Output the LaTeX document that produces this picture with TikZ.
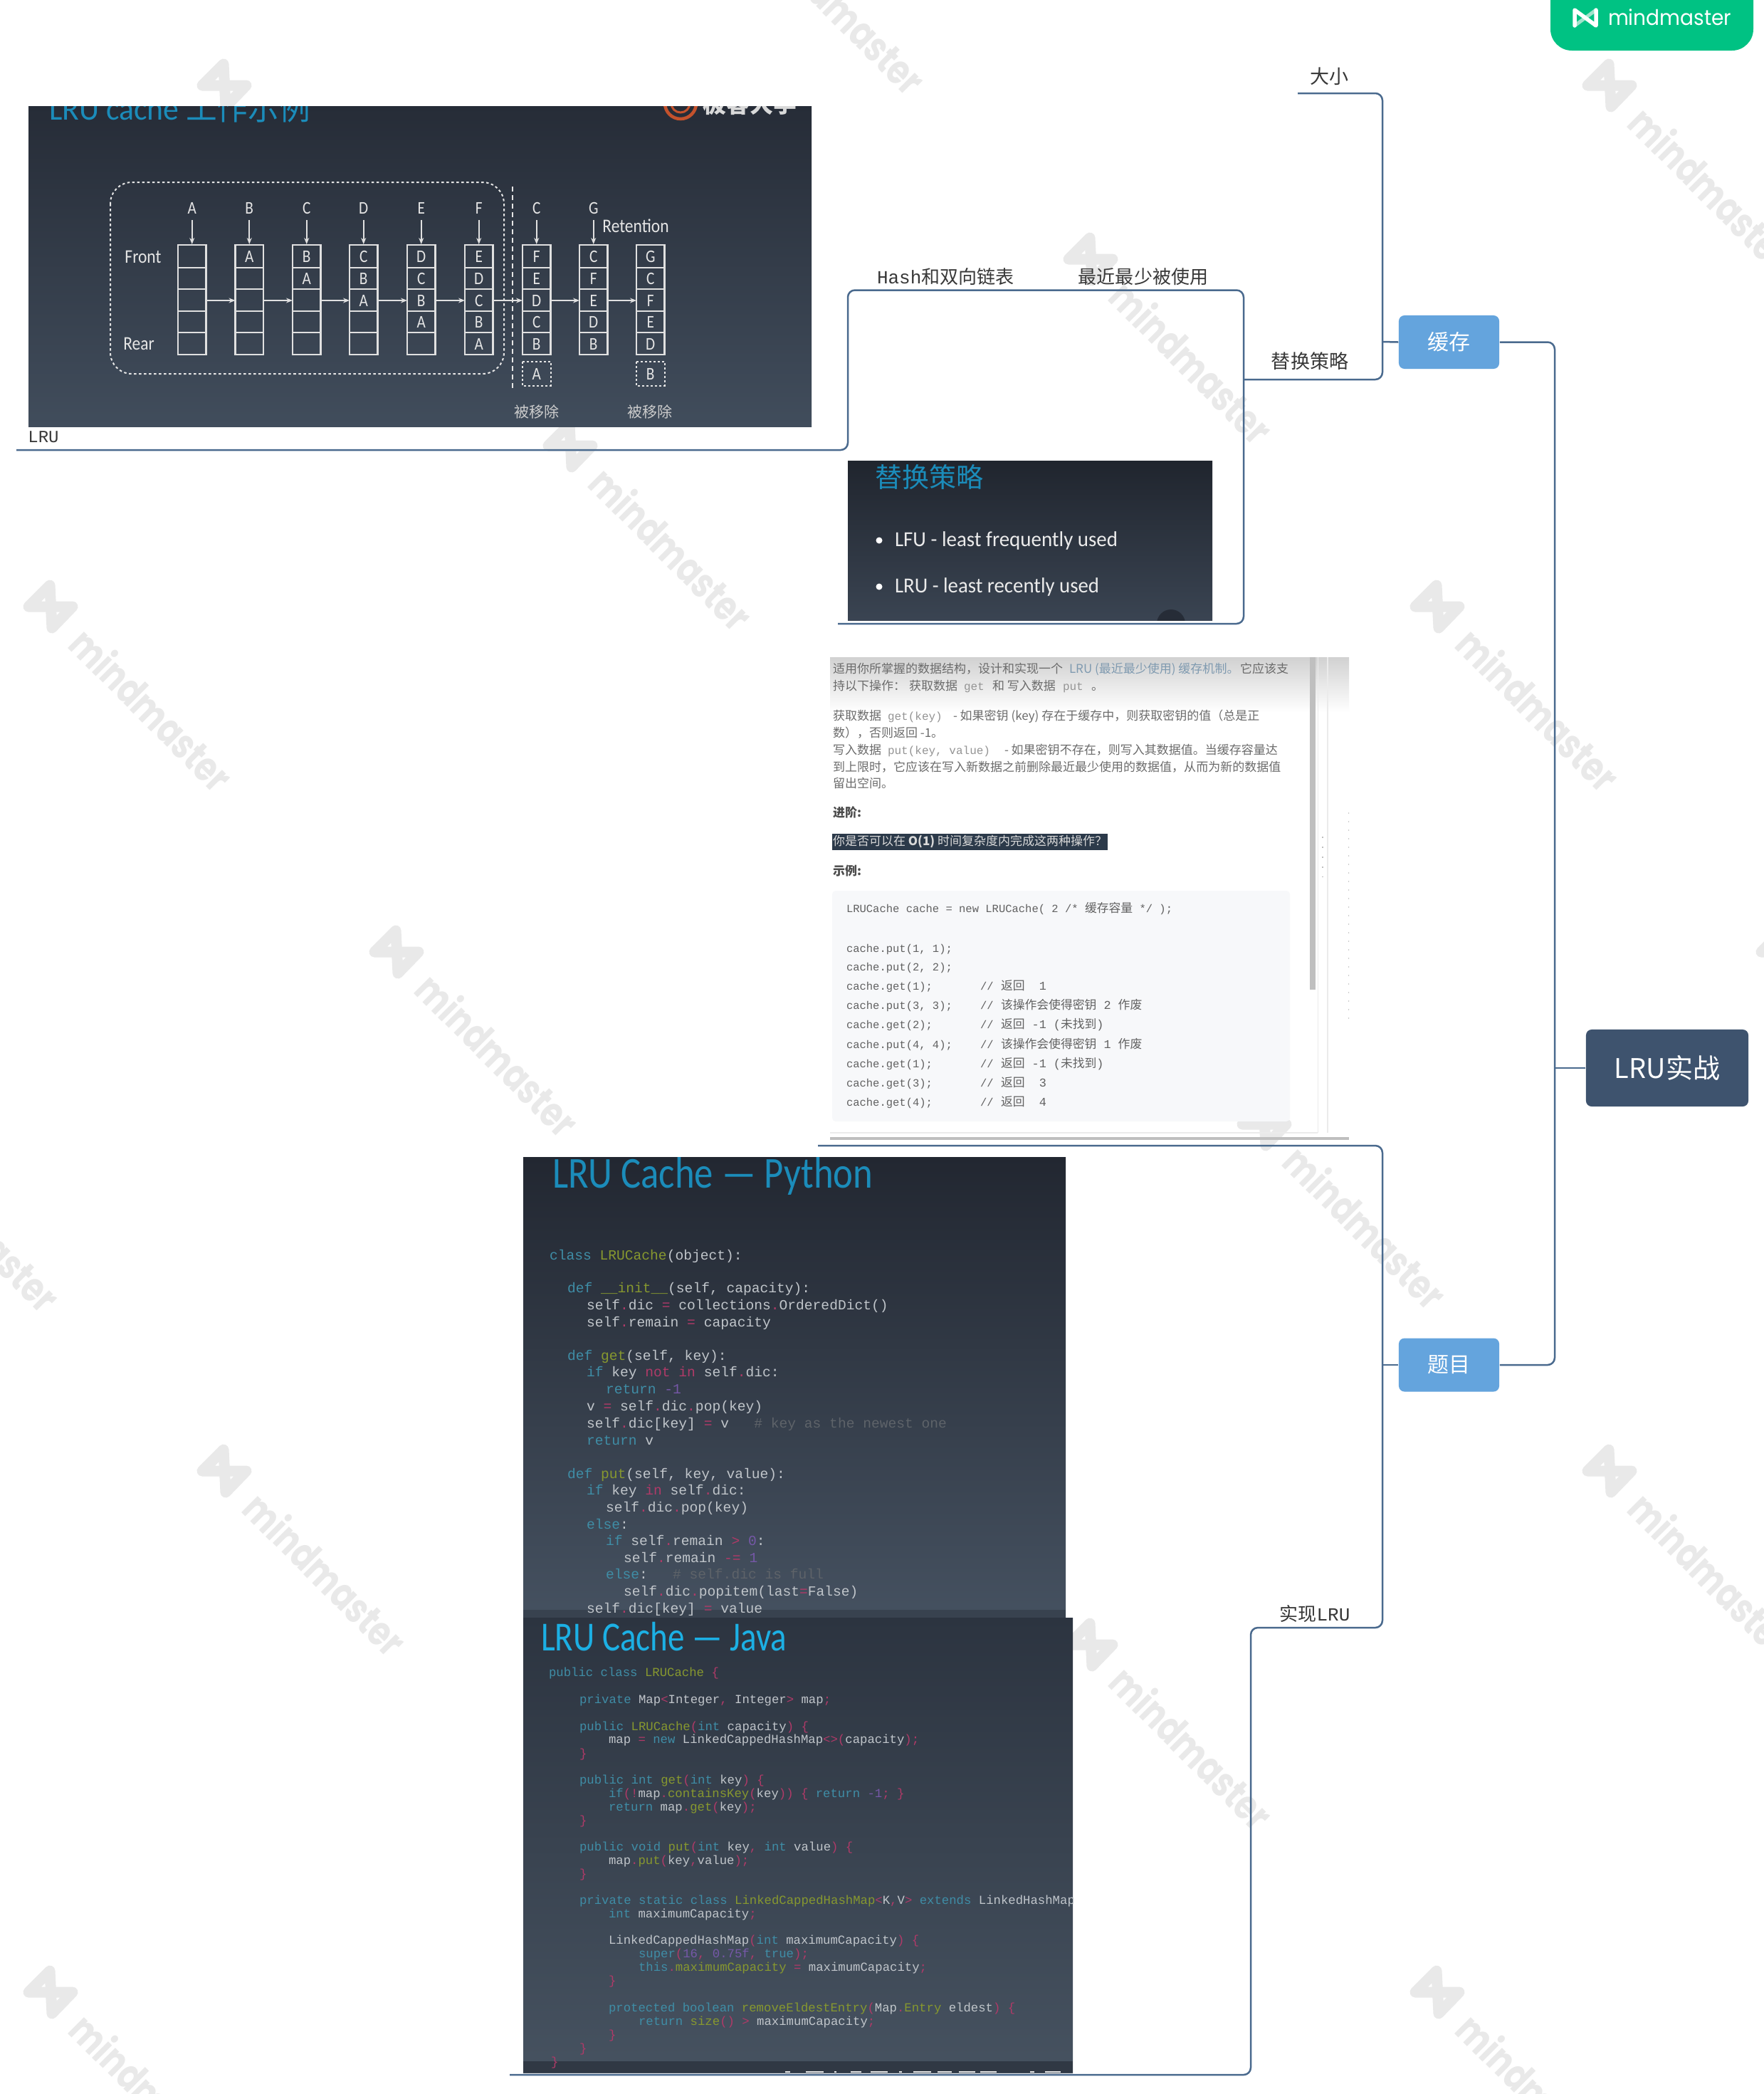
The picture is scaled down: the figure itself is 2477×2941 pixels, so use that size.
\documentclass[tikz,border=0pt]{standalone}
\usepackage{fontspec}
\usetikzlibrary{arrows.meta}
\setmainfont{Noto Sans CJK SC}
\newfontfamily\cd{Liberation Mono}
\newfontfamily\cb{Carlito}
\newfontfamily\pp{Poppins}
\newcommand\fpx[1]{\fontsize{\fpeval{#1*0.2845}pt}{\fpeval{#1*0.34}pt}\selectfont}
\newcommand\sx[2]{\scalebox{#1}[1]{#2}}
\newcounter{tn}
\definecolor{linec}{HTML}{4A6A8E}
\definecolor{blueN}{HTML}{64A4DD}
\definecolor{rootN}{HTML}{3E536E}
\definecolor{slideT}{HTML}{1B8CBA}
\definecolor{javaT}{HTML}{1CB0E4}
\definecolor{cKw}{HTML}{3F8DA6}
\definecolor{cFn}{HTML}{87982F}
\definecolor{cOp}{HTML}{B03A68}
\definecolor{cNm}{HTML}{7658A8}
\definecolor{cCm}{HTML}{5E6369}
\definecolor{cTx}{HTML}{C0C5CA}
\definecolor{wm}{HTML}{E9E9E9}
\definecolor{sATop}{HTML}{262C37}
\definecolor{sABot}{HTML}{414D5C}
\definecolor{sBTop}{HTML}{20252E}
\definecolor{sBBot}{HTML}{3A4452}
\definecolor{sCTop}{HTML}{222731}
\definecolor{sCBot}{HTML}{455160}
\definecolor{sCBand}{HTML}{38424F}
\definecolor{sDTop}{HTML}{2C3440}
\definecolor{sDBot}{HTML}{465260}
\definecolor{sDBand}{HTML}{303844}
\definecolor{orng}{HTML}{C4522C}
\definecolor{badge}{HTML}{00C283}
\definecolor{badge2}{HTML}{9FE3CB}
\definecolor{codebg}{HTML}{F7F8FA}
\definecolor{hilite}{HTML}{2C3A4A}
\definecolor{lnk}{HTML}{7F9AB0}
\definecolor{blob}{HTML}{262C37}
\newcommand\K[1]{{\color{cKw}#1}}
\newcommand\F[1]{{\color{cFn}#1}}
\newcommand\Op[1]{{\color{cOp}#1}}
\newcommand\Nm[1]{{\color{cNm}#1}}
\newcommand\Cm[1]{{\color{cCm}#1}}
\newcommand\BL[1]{{\color{lnk}#1}}
\tikzset{
  txt/.style={inner sep=0pt,outer sep=0pt,anchor=base west},
  conn/.style={draw=linec,line width=0.025cm,rounded corners=0.1cm},
  topicbox/.style={draw=none,fill=blueN,rounded corners=0.08cm,minimum width=1.41cm,minimum height=0.75cm,inner sep=0pt,text=white,font=\fpx{30}},
  rootbox/.style={fill=rootN,rounded corners=0.08cm,minimum width=2.28cm,minimum height=1.08cm,inner sep=0pt,text=white,font=\fpx{38}},
  lbl/.style={txt,anchor=center,text=black!78,font=\fpx{27}},
  py/.style={txt,text=cTx,font=\cd\fpx{19.6},yshift=-0.06cm},
  jv/.style={txt,text=cTx,font=\cd\fpx{17.3},yshift=-0.05cm},
  pg/.style={txt,text=black!58,font=\fpx{17},yshift=-0.055cm},
  cdp/.style={txt,text=black!62,font=\cd\fpx{15.5},yshift=-0.05cm},
  cell/.style={txt,anchor=center,text=white!90!black,font=\cb\fpx{25}},
  wire/.style={draw=white!88!black,line width=0.022cm},
  arr/.style={wire,-{Stealth[length=0.09cm,width=0.07cm]}},
  wmlogo/.style={draw=wm,line width=0.15cm,line join=round,line cap=round},
}
\newcommand\tx[4][]{\stepcounter{tn}\node[txt,name=t\arabic{tn},#1] at (#2,#3) {#4};}
\newcommand\wmk[2]{%
  \begin{scope}[shift={(#1,#2+4)}]
    \draw[wmlogo] (-31,0) -- (-1,-30) -- (2,30) -- (31,0) -- cycle;
    \tx[anchor=west,rotate=-45,text=wm,font=\pp\bfseries\fpx{58}]{39}{40}{\sx{0.785}{mindmaster}}
  \end{scope}}
\begin{document}
\begin{tikzpicture}[x=0.01cm,y=-0.01cm]
\useasboundingbox (0,0) rectangle (2477,2941);
\fill[white] (0,0) rectangle (2477,2941);
% watermarks
\foreach \wx/\wy in {315/116,2261/116,1532/360,801/622,71/848,2019/848,557/1333,1776/1575,315/2062,2261/2062,1532/2306,71/2794,2019/2794,1044/-131,-172/1579,2505/1333}{\wmk{\wx}{\wy}}
% image 1: LRU cache
\begin{scope}
\clip (40,149) rectangle (1140,599);
\shade[top color=sATop,bottom color=sABot] (40,149) rectangle (1140,599);
\tx[text=slideT,font=\cb\fpx{46}]{69}{168}{\sx{0.95}{LRU cache {\fontspec{Noto Sans CJK SC}工作示例}}}
\draw[orng,line width=0.045cm] (956,145) ellipse [x radius=22,y radius=22];
\draw[orng,line width=0.03cm] (956,145) ellipse [x radius=13,y radius=13];
\tx[text=white!85!black,font=\bfseries\fpx{33}]{987}{158}{极客大学}
\draw[white!90!black,line width=0.02cm,dash pattern=on 0.035cm off 0.035cm,rounded corners=0.3cm] (155,256) rectangle (708,525);
\draw[white!90!black,line width=0.02cm,dash pattern=on 0.07cm off 0.05cm] (720,262) -- (720,550);
\foreach \cxx/\ca/\cbb/\cc/\cdd/\ce in {250/{}/{}/{}/{}/{},330.5/A/{}/{}/{}/{},411/B/A/{}/{}/{},491/C/B/A/{}/{},572/D/C/B/A/{},653/E/D/C/B/A,734/F/E/D/C/B,814/C/F/E/D/B,894/G/C/F/E/D}{
  \foreach \ya/\yb in {344/376,376/406,406/437,437/467,467/498}{
    \draw[wire] (\cxx,\ya) rectangle (\cxx+39.5,\yb);
  }
  \tx[cell]{\cxx+19.75}{360}{\sx{0.85}{\ca}}
  \tx[cell]{\cxx+19.75}{391}{\sx{0.85}{\cbb}}
  \tx[cell]{\cxx+19.75}{422}{\sx{0.85}{\cc}}
  \tx[cell]{\cxx+19.75}{452}{\sx{0.85}{\cdd}}
  \tx[cell]{\cxx+19.75}{483}{\sx{0.85}{\ce}}
}
\foreach \ax/\bx in {289.5/330.5,370/411,451/491,531/572,612/653,693/734,773/814,854/894}{
  \draw[arr] (\ax,422) -- (\bx,422);
}
\foreach \cxx/\tl in {250/A,330.5/B,411/C,491/D,572/E,653/F,734/C,814/G}{
  \draw[arr] (\cxx+19.75,309) -- (\cxx+19.75,343);
  \tx[cell]{\cxx+19.75}{292}{\sx{0.85}{\tl}}
}
\foreach \cxx/\tl in {734/A,894/B}{
  \draw[white!90!black,line width=0.02cm,dash pattern=on 0.03cm off 0.03cm] (\cxx,508) rectangle (\cxx+39.5,542);
  \tx[cell]{\cxx+19.75}{525}{\sx{0.85}{\tl}}
}
\tx[cell,font=\cb\fpx{27}]{201}{361}{\sx{0.87}{Front}}
\tx[cell,font=\cb\fpx{27}]{195}{483}{\sx{0.87}{Rear}}
\tx[cell,font=\cb\fpx{27}]{893}{317}{\sx{0.87}{Retention}}
\tx[cell,font=\fpx{21},text=white!80!black]{754}{578}{被移除}
\tx[cell,font=\fpx{21},text=white!80!black]{913}{578}{被移除}
\end{scope}
% image 2
\begin{scope}
\clip (1191,647.5) rectangle (1703,871);
\shade[top color=sBTop,bottom color=sBBot] (1191,647.5) rectangle (1703,871);
\tx[anchor=west,text=slideT,font=\fpx{38}]{1229}{670}{替换策略}
\fill[white] (1235,759) circle[radius=0.045cm];
\fill[white] (1235,824) circle[radius=0.045cm];
\tx[anchor=west,text=white!92!black,font=\cb\fpx{30}]{1257}{759}{\sx{0.965}{LFU - least frequently used}}
\tx[anchor=west,text=white!92!black,font=\cb\fpx{30}]{1257}{824}{\sx{0.96}{LRU - least recently used}}
\fill[blob] (1645,876) circle[radius=0.2cm];
\end{scope}
% image 3
\begin{scope}
\clip (1166,923) rectangle (1895,1601);
\shade[top color=black!18,bottom color=white] (1166,923) rectangle (1895,1000);
\fill[black!25] (1840,923) rectangle (1848,1390);
\draw[black!8,line width=0.012cm] (1851.5,923) -- (1851.5,1591);
\draw[black!8,line width=0.012cm] (1865,923) -- (1865,1591);
\draw[black!8,line width=0.012cm] (1166,1591) -- (1851,1591);
\draw[black!25,line width=0.02cm,dash pattern=on 0.02cm off 0.12cm] (1858,1175) -- (1858,1232);
\draw[black!20,line width=0.012cm,dash pattern=on 0.02cm off 0.1cm] (1895,1141) -- (1895,1437);
\fill[black!25] (1166,1597) rectangle (1895,1601);
\fill[codebg,rounded corners=0.05cm] (1169,1251) rectangle (1812,1575);
\fill[hilite] (1169,1171) rectangle (1556,1194);
\tx[pg]{1170}{940}{适用你所掌握的数据结构，设计和实现一个}
\tx[pg]{1502}{940}{\BL{LRU (最近最少使用) 缓存机制。}}
\tx[pg]{1742}{940}{它应该支}
\tx[pg]{1170}{964}{持以下操作：}
\tx[pg]{1277}{964}{获取数据}
\tx[pg,font=\cd\fpx{16},text=black!42]{1354}{964}{get}
\tx[pg]{1394}{964}{和 写入数据}
\tx[pg,font=\cd\fpx{16},text=black!42]{1493}{964}{put}
\tx[pg]{1533}{964}{。}
\tx[pg]{1170}{1006}{获取数据}
\tx[pg,font=\cd\fpx{16},text=black!42]{1247}{1006}{get(key)}
\tx[pg]{1339}{1006}{- 如果密钥 (key) 存在于缓存中，则获取密钥的值（总是正}
\tx[pg]{1170}{1030}{数），否则返回 -1。}
\tx[pg]{1170}{1054}{写入数据}
\tx[pg,font=\cd\fpx{16},text=black!42]{1247}{1054}{put(key, value)}
\tx[pg]{1411}{1054}{- 如果密钥不存在，则写入其数据值。当缓存容量达}
\tx[pg]{1170}{1078}{到上限时，它应该在写入新数据之前删除最近最少使用的数据值，从而为新的数据值}
\tx[pg]{1170}{1101}{留出空间。}
\tx[pg,font=\bfseries\fpx{17},text=black!70]{1170}{1142}{进阶:}
\tx[pg,text=white!85!black]{1170}{1182}{你是否可以在 \textbf{O(1)} 时间复杂度内完成这两种操作？}
\tx[pg,font=\bfseries\fpx{17},text=black!70]{1170}{1224}{示例:}
\tx[cdp]{1189}{1276}{LRUCache cache = new LRUCache( 2 /* {\fontspec{Noto Sans CJK SC}\fpx{16.8}缓存容量} */ );}
\foreach \yy/\aa/\bb in {1332/{cache.put(1, 1);}/{},1358/{cache.put(2, 2);}/{},1385/{cache.get(1);}/{返回{\cd ~~1}},1412/{cache.put(3, 3);}/{该操作会使得密钥{\cd ~2~}作废},1439/{cache.get(2);}/{返回{\cd ~-1~(}未找到{\cd )}},1467/{cache.put(4, 4);}/{该操作会使得密钥{\cd ~1~}作废},1494/{cache.get(1);}/{返回{\cd ~-1~(}未找到{\cd )}},1521/{cache.get(3);}/{返回{\cd ~~3}},1548/{cache.get(4);}/{返回{\cd ~~4}}}{
  \tx[cdp]{1189}{\yy}{\aa}
  \tx[cdp,font=\fpx{16.8}]{1406}{\yy}{\bb}
}
\foreach \yy in {1385,1412,1439,1467,1494,1521,1548}{
  \tx[cdp]{1377}{\yy}{//}
}
\end{scope}
% image 4 python
\begin{scope}
\clip (735,1625) rectangle (1497,2272);
\shade[top color=sCTop,bottom color=sCBot] (735,1625) rectangle (1497,2272);
\fill[sCBand] (735,2261) rectangle (1497,2272);
\tx[anchor=west,text=slideT,font=\cb\fpx{62}]{776}{1652}{\sx{0.85}{LRU Cache — Python}}
\tx[py]{772}{1763}{\K{class} \F{LRUCache}(object):}
\tx[py]{797}{1809}{\K{def} \F{\_\_init\_\_}(self, capacity):}
\tx[py]{824}{1833}{self\Op{.}dic \Op{=} collections\Op{.}OrderedDict()}
\tx[py]{824}{1857}{self\Op{.}remain \Op{=} capacity}
\tx[py]{797}{1904}{\K{def} \F{get}(self, key):}
\tx[py]{824}{1927}{\K{if} key \Op{not in} self\Op{.}dic:}
\tx[py]{851}{1951}{\K{return} \Nm{-1}}
\tx[py]{824}{1975}{v \Op{=} self\Op{.}dic\Op{.}pop(key)}
\tx[py]{824}{1999}{self\Op{.}dic[key] \Op{=} v~~~\Cm{\# key as the newest one}}
\tx[py]{824}{2023}{\K{return} v}
\tx[py]{797}{2070}{\K{def} \F{put}(self, key, value):}
\tx[py]{824}{2093}{\K{if} key \Op{in} self\Op{.}dic:}
\tx[py]{851}{2117}{self\Op{.}dic\Op{.}pop(key)}
\tx[py]{824}{2141}{\K{else}:}
\tx[py]{851}{2164}{\K{if} self\Op{.}remain \Op{>} \Nm{0}:}
\tx[py]{876}{2188}{self\Op{.}remain \Op{-=} \Nm{1}}
\tx[py]{851}{2211}{\K{else}:~~~\Cm{\# self.dic is full}}
\tx[py]{876}{2235}{self\Op{.}dic\Op{.}popitem(last\Op{=}False)}
\tx[py]{824}{2259}{self\Op{.}dic[key] \Op{=} value}
\end{scope}
% image 5 java
\begin{scope}
\clip (735,2272) rectangle (1507,2911);
\shade[top color=sDTop,bottom color=sDBot] (735,2272) rectangle (1507,2911);
\fill[sDBand] (735,2895) rectangle (1507,2911);
\foreach \ba/\bc in {1103/1110,1132/1157,1172/1175,1195/1210,1223/1247,1263/1267,1283/1308,1317/1337,1347/1370,1377/1400,1447/1453,1468/1490}{
  \fill[white!90!black] (\ba,2908.5) rectangle (\bc,2911);
}
\tx[anchor=west,text=javaT,font=\cb\fpx{58}]{760}{2299}{\sx{0.81}{LRU Cache — Java}}
\tx[jv]{771}{2349}{\K{public class} \F{LRUCache} \Op{\{}}
\tx[jv]{814}{2387}{\K{private} Map\Op{<}Integer\Op{,} Integer\Op{>} map\Op{;}}
\tx[jv]{814}{2425}{\K{public} \F{LRUCache}\Op{(}\K{int} capacity\Op{)} \Op{\{}}
\tx[jv]{855}{2443}{map \Op{=} \K{new} LinkedCappedHashMap\Op{<>(}capacity\Op{);}}
\tx[jv]{814}{2463}{\Op{\}}}
\tx[jv]{814}{2500}{\K{public int} \F{get}\Op{(}\K{int} key\Op{)} \Op{\{}}
\tx[jv]{855}{2519}{\K{if}\Op{(!}map\Op{.}\F{containsKey}\Op{(}key\Op{))} \Op{\{} \K{return} \Nm{-1}\Op{;} \Op{\}}}
\tx[jv]{855}{2538}{\K{return} map\Op{.}\F{get}\Op{(}key\Op{);}}
\tx[jv]{814}{2557}{\Op{\}}}
\tx[jv]{814}{2594}{\K{public void} \F{put}\Op{(}\K{int} key\Op{,} \K{int} value\Op{)} \Op{\{}}
\tx[jv]{855}{2613}{map\Op{.}\F{put}\Op{(}key\Op{,}value\Op{);}}
\tx[jv]{814}{2632}{\Op{\}}}
\tx[jv]{814}{2669}{\K{private static class} \F{LinkedCappedHashMap}\Op{<}K\Op{,}V\Op{>} \K{extends} LinkedHashMap\Op{<}K\Op{,}V\Op{>} \Op{\{}}
\tx[jv]{855}{2688}{\K{int} maximumCapacity\Op{;}}
\tx[jv]{855}{2725}{LinkedCappedHashMap\Op{(}\K{int} maximumCapacity\Op{)} \Op{\{}}
\tx[jv]{897}{2744}{\K{super}\Op{(}\Nm{16}\Op{,} \Nm{0.75f}\Op{,} \K{true}\Op{);}}
\tx[jv]{897}{2763}{\K{this}\Op{.}\F{maximumCapacity} \Op{=} maximumCapacity\Op{;}}
\tx[jv]{855}{2782}{\Op{\}}}
\tx[jv]{855}{2820}{\K{protected boolean} \F{removeEldestEntry}\Op{(}Map\Op{.}\F{Entry} eldest\Op{)} \Op{\{}}
\tx[jv]{897}{2839}{\K{return} \F{size}\Op{()} \Op{>} maximumCapacity\Op{;}}
\tx[jv]{855}{2858}{\Op{\}}}
\tx[jv]{814}{2877}{\Op{\}}}
\tx[jv]{774}{2896}{\Op{\}}}
\end{scope}
% badge
\fill[badge,rounded corners=0.3cm] (2178,-50) rectangle (2463,71);
\draw[badge2,line width=0.05cm] (2212,36) -- (2242,14);
\draw[white,line width=0.055cm,line join=round,line cap=round] (2212,36) -- (2212,14) -- (2242,36) -- (2242,14);
\tx[text=white,font=\pp\fpx{30}]{2259}{35}{\sx{0.935}{mindmaster}}
% mind map nodes
\node[rootbox] (root) at (2342,1500) {LRU实战};
\node[topicbox] (cache) at (2035.5,480.5) {缓存};
\node[topicbox] (topic) at (2035.5,1917) {题目};
\node[lbl] (size) at (1867,107) {大小};
\node[lbl] (repl) at (1840,507) {替换策略};
\node[lbl,font=\fpx{26},anchor=base west] (hash) at (1232,398) {{\cd Hash}和双向链表};
\node[lbl,font=\fpx{26}] (recent) at (1606,389) {最近最少被使用};
\node[lbl,font=\cd\fpx{24}] (lrul) at (61,614) {LRU};
\node[lbl,font=\fpx{26},anchor=base] (impl) at (1847,2276) {实现{\cd LRU}};
\coordinate (trunk) at (2184,1500);
\coordinate (br) at (1942,480);
\coordinate (sizeL) at (1823,131);
\coordinate (replC) at (1747,533);
\coordinate (lruEnd) at (23,632);
\coordinate (lruUp) at (1191,632);
\coordinate (hashTop) at (1191,407.5);
\coordinate (repTop) at (1747,407.5);
\coordinate (repBot) at (1747,876);
\coordinate (repEnd) at (1177,876);
\coordinate (probEnd) at (1149,1609);
\coordinate (implR) at (1942,2286);
\coordinate (implL) at (1757,2286);
\coordinate (implB) at (1757,2914);
\coordinate (implEnd) at (716,2914);
% connectors
\draw[conn] (cache.east) -- (trunk |- cache.east) -- (trunk |- topic.east) -- (topic.east);
\draw[conn] (root.west) -- (trunk |- root.west);
\draw[conn] (sizeL) -- (br |- sizeL) -- (br |- replC) -- (replC);
\draw[conn] (cache.west) -- (br);
\draw[conn] (lruEnd) -- (lruUp) -- (hashTop) -- (repTop) -- (repBot) -- (repEnd);
\draw[conn] (probEnd) -- (br |- probEnd) -- (implR) -- (implL) -- (implB) -- (implEnd);
\draw[conn] (topic.west) -- (br |- topic.west);
\end{tikzpicture}
\end{document}
